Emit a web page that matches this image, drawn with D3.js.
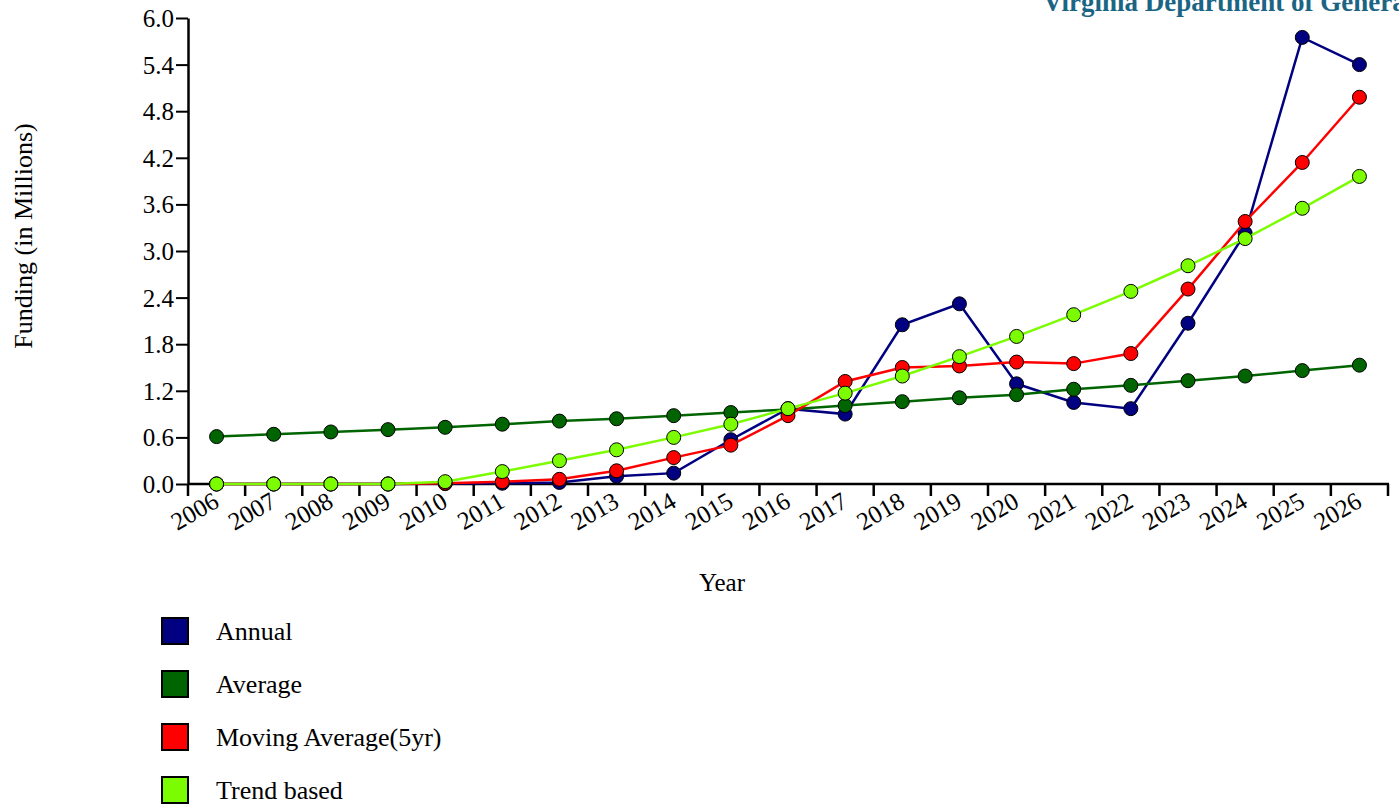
<!DOCTYPE html>
<html>
<head>
<meta charset="utf-8">
<script src="https://cdn.jsdelivr.net/npm/d3@7/dist/d3.min.js"></script>
<style>
  html, body { margin: 0; padding: 0; background: #fff; overflow: hidden; }
  svg { display: block; font-family: "Liberation Serif", "Times New Roman", serif; }
</style>
</head>
<body>
<svg id="chart" width="1399" height="811"></svg>
<script>
// Funding series, in millions of dollars
const years = ["2006","2007","2008","2009","2010","2011","2012","2013","2014","2015","2016",
               "2017","2018","2019","2020","2021","2022","2023","2024","2025","2026"];
const annual        = [0, 0, 0, 0, 0.005, 0.01, 0.02, 0.10, 0.14, 0.57, 0.97, 0.90, 2.05, 2.32, 1.29, 1.05, 0.97, 2.07, 3.23, 5.75, 5.40];
const average       = [0.61, 0.64, 0.67, 0.70, 0.73, 0.77, 0.81, 0.84, 0.88, 0.92, 0.96, 1.01, 1.06, 1.11, 1.15, 1.22, 1.27, 1.33, 1.39, 1.46, 1.53];
const movingAverage = [0, 0, 0, 0, 0.01, 0.03, 0.06, 0.17, 0.34, 0.50, 0.88, 1.32, 1.50, 1.52, 1.57, 1.55, 1.68, 2.51, 3.38, 4.14, 4.98];
const trendBased    = [0, 0, 0, 0, 0.03, 0.16, 0.30, 0.44, 0.60, 0.77, 0.97, 1.17, 1.39, 1.64, 1.90, 2.18, 2.48, 2.81, 3.16, 3.55, 3.96];
const seriesNames   = ["Annual", "Average", "Moving Average(5yr)", "Trend based"];
const yTicks        = [0, 0.6, 1.2, 1.8, 2.4, 3.0, 3.6, 4.2, 4.8, 5.4, 6.0];

const colors = ["#000080", "#006400", "#ff0000", "#7cfc00"];
const seriesValues = [annual, average, movingAverage, trendBased];

const svg = d3.select("#chart");
const plotLeft = 188, plotRight = 1388, plotTop = 18, plotBottom = 484;

const x = d3.scaleBand().domain(years).range([plotLeft, plotRight]).padding(0);
const y = d3.scaleLinear().domain([0, 6]).range([plotBottom, plotTop]);
const cx = d => x(d) + x.bandwidth() / 2;

// Title (runs off the right edge)
svg.append("text")
  .attr("x", 1043).attr("y", 11)
  .attr("font-size", 27).attr("font-weight", "bold")
  .attr("fill", "#1b6584")
  .text("Virginia Department of General Services");

// Y axis
const yAxis = d3.axisLeft(y).tickValues(yTicks).tickFormat(d3.format(".1f")).tickSize(12).tickSizeOuter(0);
const gy = svg.append("g").attr("transform", `translate(${plotLeft},0)`).call(yAxis);
gy.select(".domain").attr("stroke", "#000").attr("stroke-width", 2.5);
gy.selectAll(".tick line").attr("stroke", "#000").attr("stroke-width", 2);
gy.selectAll(".tick text").attr("font-size", 25).attr("font-family", "Liberation Serif, serif")
  .attr("fill", "#000").attr("x", -14).attr("dy", "0.34em");

// X axis: ticks on band edges, labels under band centres
const gx = svg.append("g");
gx.append("line").attr("x1", plotLeft).attr("x2", plotRight + 1).attr("y1", plotBottom).attr("y2", plotBottom)
  .attr("stroke", "#000").attr("stroke-width", 2.5);
const edges = years.map(d => x(d)).concat([plotRight]);
gx.selectAll("line.tick").data(edges).join("line").attr("class", "tick")
  .attr("x1", d => d).attr("x2", d => d).attr("y1", plotBottom).attr("y2", plotBottom + 12)
  .attr("stroke", "#000").attr("stroke-width", 2.5);
gx.selectAll("text").data(years).join("text")
  .attr("transform", d => `translate(${cx(d) + 4},${plotBottom + 22}) rotate(-30)`)
  .attr("text-anchor", "end")
  .attr("font-size", 25)
  .attr("fill", "#000")
  .text(d => d);

// Axis titles
svg.append("text").attr("transform", "translate(32,236) rotate(-90)")
  .attr("text-anchor", "middle").attr("font-size", 26).text("Funding (in Millions)");
svg.append("text").attr("x", 722).attr("y", 591)
  .attr("text-anchor", "middle").attr("font-size", 25).text("Year");

// Series lines and markers
const line = d3.line().x((v, i) => cx(years[i])).y(v => y(v));
seriesValues.forEach((vals, k) => {
  const g = svg.append("g");
  g.append("path").datum(vals).attr("d", line)
    .attr("fill", "none").attr("stroke", colors[k]).attr("stroke-width", 2.5);
  g.selectAll("circle").data(vals).join("circle")
    .attr("cx", (v, i) => cx(years[i])).attr("cy", v => y(v)).attr("r", 7)
    .attr("fill", colors[k]).attr("stroke", "#000").attr("stroke-width", 1);
});

// Legend
const legend = svg.append("g");
seriesNames.forEach((name, k) => {
  const yy = 618 + k * 53;
  legend.append("rect").attr("x", 162).attr("y", yy).attr("width", 26).attr("height", 26)
    .attr("fill", colors[k]).attr("stroke", "#000").attr("stroke-width", 2);
  legend.append("text").attr("x", 216).attr("y", yy + 22).attr("font-size", 26).text(name);
});
</script>
</body>
</html>
